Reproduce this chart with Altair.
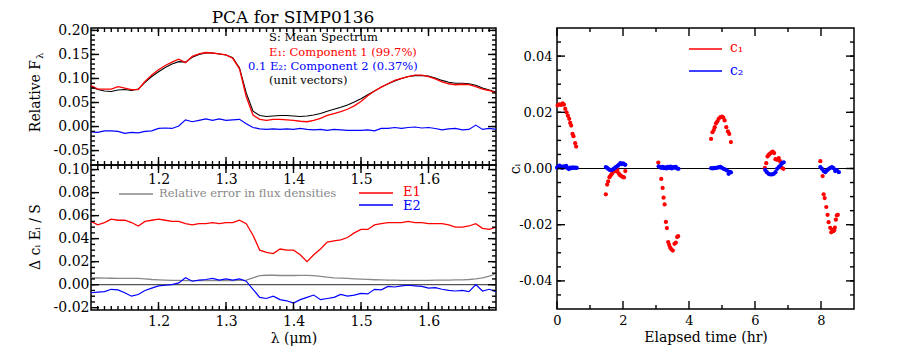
import altair as alt
import pandas as pd

FONT = "DejaVu Serif"

# ---------------- data ----------------
wavelength = [1.10, 1.11, 1.12, 1.13, 1.14, 1.15, 1.16, 1.17, 1.18, 1.19,
              1.20, 1.21, 1.22, 1.23, 1.24, 1.25, 1.26, 1.27, 1.28, 1.29,
              1.30, 1.31, 1.32, 1.33, 1.34, 1.35, 1.36, 1.37, 1.38, 1.39,
              1.40, 1.41, 1.42, 1.43, 1.44, 1.45, 1.46, 1.47, 1.48, 1.49,
              1.50, 1.51, 1.52, 1.53, 1.54, 1.55, 1.56, 1.57, 1.58, 1.59,
              1.60, 1.61, 1.62, 1.63, 1.64, 1.65, 1.66, 1.67, 1.68, 1.69, 1.70]

mean_spectrum = [0.083, 0.077, 0.074, 0.073, 0.076, 0.077, 0.075, 0.078, 0.092, 0.104,
                 0.114, 0.123, 0.130, 0.135, 0.134, 0.144, 0.150, 0.153, 0.153, 0.151,
                 0.149, 0.143, 0.122, 0.070, 0.032, 0.023, 0.021, 0.022, 0.023, 0.023,
                 0.022, 0.021, 0.022, 0.024, 0.027, 0.032, 0.036, 0.040, 0.045, 0.051,
                 0.058, 0.066, 0.074, 0.082, 0.089, 0.095, 0.100, 0.104, 0.106, 0.106,
                 0.105, 0.101, 0.096, 0.092, 0.090, 0.090, 0.089, 0.086, 0.080, 0.076, 0.072]

component1 = [0.085, 0.078, 0.078, 0.078, 0.083, 0.080, 0.077, 0.077, 0.094, 0.107,
              0.118, 0.127, 0.134, 0.140, 0.133, 0.146, 0.151, 0.154, 0.153, 0.151,
              0.149, 0.142, 0.120, 0.062, 0.024, 0.015, 0.013, 0.015, 0.015, 0.014,
              0.013, 0.011, 0.010, 0.013, 0.017, 0.023, 0.027, 0.031, 0.036, 0.043,
              0.052, 0.064, 0.074, 0.082, 0.089, 0.096, 0.100, 0.104, 0.107, 0.107,
              0.104, 0.099, 0.093, 0.089, 0.087, 0.088, 0.087, 0.083, 0.078, 0.075, 0.070]

component2_x01 = [-0.011, -0.012, -0.009, -0.009, -0.010, -0.014, -0.012, -0.013, -0.010, -0.009,
                  -0.004, -0.003, -0.004, 0.001, 0.014, 0.010, 0.013, 0.016, 0.013, 0.016,
                  0.013, 0.014, 0.015, 0.006, -0.002, -0.005, -0.006, -0.005, -0.006, -0.005,
                  -0.006, -0.004, -0.006, -0.007, -0.006, -0.008, -0.006, -0.007, -0.008, -0.008,
                  -0.008, -0.007, -0.009, -0.004, -0.004, -0.002, -0.004, -0.002, -0.001, -0.003,
                  -0.002, -0.004, -0.007, -0.005, -0.004, -0.007, -0.006, 0.003, -0.006, -0.004, -0.006]

delta_e1 = [0.055, 0.052, 0.054, 0.057, 0.056, 0.056, 0.054, 0.051, 0.055, 0.056,
            0.057, 0.056, 0.055, 0.055, 0.053, 0.052, 0.053, 0.053, 0.054, 0.053,
            0.054, 0.054, 0.056, 0.053, 0.043, 0.030, 0.028, 0.027, 0.031, 0.030,
            0.030, 0.026, 0.020, 0.026, 0.031, 0.037, 0.038, 0.039, 0.041, 0.045,
            0.048, 0.048, 0.052, 0.053, 0.054, 0.054, 0.054, 0.055, 0.054, 0.054,
            0.053, 0.053, 0.053, 0.052, 0.050, 0.050, 0.051, 0.053, 0.049, 0.048, 0.050]

delta_e2 = [-0.0070, -0.0065, -0.0060, -0.0040, -0.0045, -0.0070, -0.0100, -0.0085, -0.0050, -0.0030,
            -0.0010, -0.0005, 0.0000, 0.0015, 0.0060, 0.0030, 0.0040, 0.0045, 0.0055, 0.0040,
            0.0050, 0.0040, 0.0050, 0.0030, -0.0040, -0.0110, -0.0120, -0.0100, -0.0130, -0.0140,
            -0.0160, -0.0130, -0.0110, -0.0090, -0.0130, -0.0120, -0.0110, -0.0085, -0.0100, -0.0090,
            -0.0075, -0.0080, -0.0040, -0.0045, -0.0015, -0.0020, -0.0010, -0.0005, -0.0010, -0.0015,
            -0.0030, -0.0025, -0.0040, -0.0050, -0.0055, -0.0050, -0.0060, 0.0000, -0.0055, -0.0040, -0.0060]

rel_error = [0.0060, 0.0058, 0.0057, 0.0056, 0.0055, 0.0055, 0.0055, 0.0054, 0.0050, 0.0045,
             0.0042, 0.0040, 0.0038, 0.0037, 0.0036, 0.0036, 0.0035, 0.0035, 0.0035, 0.0035,
             0.0035, 0.0036, 0.0037, 0.0040, 0.0060, 0.0078, 0.0082, 0.0082, 0.0080, 0.0080,
             0.0080, 0.0081, 0.0081, 0.0078, 0.0072, 0.0065, 0.0060, 0.0057, 0.0054, 0.0051,
             0.0049, 0.0046, 0.0043, 0.0041, 0.0040, 0.0039, 0.0038, 0.0038, 0.0038, 0.0038,
             0.0038, 0.0039, 0.0040, 0.0040, 0.0041, 0.0042, 0.0045, 0.0050, 0.0060, 0.0075, 0.0095]

time_c1 = [0.02, 0.07, 0.12, 0.17, 0.21, 0.25, 0.29, 0.33, 0.37, 0.40, 0.43, 0.47, 0.50, 0.55, 0.58,
           1.48, 1.52, 1.55, 1.59, 1.63, 1.67, 1.71, 1.75, 1.79, 1.83, 1.87, 1.91, 1.95, 1.99, 2.03, 2.07,
           3.07, 3.16, 3.20, 3.23, 3.26, 3.30, 3.33, 3.37, 3.40, 3.43, 3.47, 3.51, 3.56, 3.60, 3.64, 3.67,
           4.67, 4.71, 4.75, 4.78, 4.82, 4.86, 4.90, 4.95, 5.00, 5.04, 5.08, 5.13, 5.18, 5.22, 5.27,
           6.30, 6.34, 6.38, 6.42, 6.46, 6.50, 6.54, 6.58, 6.62, 6.67, 6.72, 6.76, 6.81, 6.86,
           7.98, 8.05, 8.08, 8.11, 8.16, 8.20, 8.23, 8.28, 8.31, 8.34, 8.37, 8.40, 8.42, 8.45, 8.48, 8.51]
c1 = [0.0225, 0.0228, 0.0226, 0.0232, 0.0227, 0.0212, 0.0200, 0.0188, 0.0177, 0.0162, 0.0153, 0.0123, 0.0115, 0.0090, 0.0078,
      -0.0092, -0.0057, -0.0046, -0.0031, -0.0024, -0.0018, -0.0012, -0.0007, -0.0009, -0.0005, -0.0017, -0.0024, -0.0027, -0.0030, -0.0032, -0.0009,
      0.0021, -0.0037, -0.0069, -0.0104, -0.0128, -0.0190, -0.0212, -0.0262, -0.0272, -0.0282, -0.0288, -0.0292, -0.0268, -0.0264, -0.0244, -0.0241,
      0.0105, 0.0129, 0.0137, 0.0147, 0.0161, 0.0168, 0.0177, 0.0183, 0.0185, 0.0181, 0.0171, 0.0147, 0.0132, 0.0123, 0.0094,
      0.0002, 0.0019, 0.0043, 0.0049, 0.0053, 0.0057, 0.0060, 0.0055, 0.0033, 0.0031, 0.0037, 0.0026, 0.0003, -0.0001,
      0.0026, -0.0027, -0.0092, -0.0105, -0.0137, -0.0165, -0.0191, -0.0211, -0.0227, -0.0218, -0.0223, -0.0220, -0.0210, -0.0182, -0.0167, -0.0165]

time_c2 = [0.00, 0.04, 0.08, 0.12, 0.16, 0.20, 0.24, 0.28, 0.32, 0.36, 0.40, 0.44, 0.48, 0.52, 0.56, 0.60,
           1.48, 1.52, 1.56, 1.60, 1.64, 1.68, 1.72, 1.76, 1.80, 1.84, 1.88, 1.92, 1.96, 2.00, 2.04, 2.07,
           3.08, 3.12, 3.16, 3.20, 3.24, 3.28, 3.32, 3.36, 3.40, 3.44, 3.48, 3.52, 3.56, 3.60, 3.64, 3.68,
           4.67, 4.72, 4.76, 4.80, 4.85, 4.90, 4.95, 5.00, 5.05, 5.10, 5.15, 5.20, 5.24, 5.27,
           6.31, 6.36, 6.41, 6.46, 6.52, 6.57, 6.62, 6.67, 6.72, 6.77, 6.82, 6.87,
           7.98, 8.03, 8.08, 8.13, 8.18, 8.23, 8.28, 8.33, 8.38, 8.43, 8.48, 8.54]
c2 = [0.0003, 0.0008, 0.0010, 0.0006, 0.0002, 0.0008, 0.0005, 0.0009, 0.0001, -0.0002, 0.0003, 0.0001, 0.0004, 0.0002, 0.0003, 0.0002,
      0.0005, 0.0002, -0.0002, -0.0005, -0.0006, -0.0004, -0.0001, 0.0003, 0.0006, 0.0009, 0.0014, 0.0019, 0.0016, 0.0018, 0.0015, 0.0013,
      0.0008, 0.0005, 0.0002, 0.0006, 0.0001, 0.0004, 0.0000, 0.0006, 0.0002, 0.0007, 0.0000, 0.0005, 0.0003, 0.0006, 0.0000, -0.0001,
      0.0001, 0.0000, 0.0002, 0.0001, 0.0003, 0.0004, 0.0006, 0.0002, -0.0001, -0.0004, -0.0007, -0.0019, -0.0012, -0.0014,
      -0.0005, -0.0013, -0.0019, -0.0021, -0.0021, -0.0019, -0.0013, -0.0001, 0.0005, 0.0011, 0.0019, 0.0022,
      0.0005, -0.0001, -0.0009, -0.0013, -0.0007, -0.0002, 0.0002, 0.0005, 0.0001, -0.0009, -0.0006, -0.0013]

wl_ticks = [1.2, 1.3, 1.4, 1.5, 1.6]
top_y_ticks = [-0.05, 0.00, 0.05, 0.10, 0.15, 0.20]
bot_y_ticks = [-0.02, 0.00, 0.02, 0.04, 0.06, 0.08, 0.10]
time_ticks = [0, 2, 4, 6, 8]
c_ticks = [-0.04, -0.02, 0.00, 0.02, 0.04]

# minor tick positions (frame decoration)
wl_minor = [round(1.10 + 0.01 * i, 2) for i in range(1, 60)]
top_y_minor = [round(-0.07 + 0.01 * i, 2) for i in range(0, 28)]
bot_y_minor = [round(-0.015 + 0.005 * i, 3) for i in range(0, 24)]
time_minor = [1, 3, 5, 7]
c_minor = [round(-0.045 + 0.005 * i, 3) for i in range(0, 19)]


# ---------------- helpers ----------------
def label_axis(orient, values, fmt, fs, pad, title=None, title_pad=4):
    kw = dict(orient=orient, values=values, ticks=False, domain=False, grid=False,
              labels=True, title=title, labelFont=FONT, labelFontSize=fs,
              labelColor="black", labelPadding=pad, labelOverlap=False,
              labelFlush=False, minExtent=0,
              labelExpr="(datum.value < 0 ? '-' : '') + format(abs(datum.value), '%s')" % fmt)
    if title is not None:
        kw.update(titleFont=FONT, titleFontSize=14, titleFontWeight="normal",
                  titleColor="black", titlePadding=title_pad)
    return alt.Axis(**kw)


def tick_layer(values, side, length, xs, ys, W, H):
    """Inward tick marks along one frame edge."""
    d = alt.Chart(pd.DataFrame({"v": values})).mark_rule(color="black", strokeWidth=1.4)
    if side == "bottom":
        return d.encode(x=alt.X("v:Q", scale=xs, axis=None), y=alt.value(H - length), y2=alt.value(H))
    if side == "top":
        return d.encode(x=alt.X("v:Q", scale=xs, axis=None), y=alt.value(0), y2=alt.value(length))
    if side == "left":
        return d.encode(y=alt.Y("v:Q", scale=ys, axis=None), x=alt.value(0), x2=alt.value(length))
    return d.encode(y=alt.Y("v:Q", scale=ys, axis=None), x=alt.value(W - length), x2=alt.value(W))


def all_ticks(xmaj, xmin, ymaj, ymin, xs, ys, W, H, big=8, small=4):
    out = []
    for side in ("bottom", "top"):
        out.append(tick_layer(xmin, side, small, xs, ys, W, H))
        out.append(tick_layer(xmaj, side, big, xs, ys, W, H))
    for side in ("left", "right"):
        out.append(tick_layer(ymin, side, small, xs, ys, W, H))
        out.append(tick_layer(ymaj, side, big, xs, ys, W, H))
    return out


def txt(text, x, y, color="black", size=12, align="left", angle=0, opacity=1.0):
    return alt.Chart(pd.DataFrame({"t": [text]})).mark_text(
        align=align, baseline="middle", font=FONT, fontSize=size,
        color=color, angle=angle, opacity=opacity).encode(text="t:N", x=alt.value(x), y=alt.value(y))


def seg(x1, x2, y, color):
    return alt.Chart(pd.DataFrame({"t": [0]})).mark_rule(
        color=color, strokeWidth=1.3).encode(x=alt.value(x1), x2=alt.value(x2), y=alt.value(y))


spec = pd.DataFrame({"wl": wavelength, "S": mean_spectrum, "E1": component1,
                     "E2": component2_x01, "dE1": delta_e1, "dE2": delta_e2,
                     "err": rel_error})
df_c1 = pd.DataFrame({"t": time_c1, "c": c1})
df_c2 = pd.DataFrame({"t": time_c2, "c": c2})
base = alt.Chart(spec)

# ---------------- top-left panel ----------------
W_L, H_T, H_B = 405, 137, 145
xs_wl = alt.Scale(domain=[1.10, 1.70], nice=False, zero=False)
ys_top = alt.Scale(domain=[-0.08, 0.205], nice=False, zero=False)

t1 = base.mark_line(color="black", strokeWidth=1.1).encode(
    x=alt.X("wl:Q", scale=xs_wl, axis=label_axis("bottom", wl_ticks, ".1f", 14, 7)),
    y=alt.Y("S:Q", scale=ys_top, axis=label_axis("left", top_y_ticks, ".2f", 14, 2)))
t2 = base.mark_line(color="red", strokeWidth=1.3).encode(
    x=alt.X("wl:Q", scale=xs_wl, axis=None), y=alt.Y("E1:Q", scale=ys_top, axis=None))
t3 = base.mark_line(color="blue", strokeWidth=1.2).encode(
    x=alt.X("wl:Q", scale=xs_wl, axis=None), y=alt.Y("E2:Q", scale=ys_top, axis=None))

top = alt.layer(
    t1, t2, t3,
    *all_ticks(wl_ticks, wl_minor, top_y_ticks, top_y_minor, xs_wl, ys_top, W_L, H_T),
    txt("S: Mean Spectrum", 178, 10, size=11.5),
    txt("E\u2081: Component 1 (99.7%)", 178, 25, color="red", size=11.5),
    txt("0.1 E\u2082: Component 2 (0.37%)", 157, 39, color="blue", size=11.5),
    txt("(unit vectors)", 178, 53, size=11.5),
    txt("PCA for SIMP0136", 202, -10, size=17, align="center"),
    txt("Relative F", -55, 32, size=14, align="right", angle=270),
    txt("\u03bb", -51, 31, size=10, align="left", angle=270),
).resolve_axis(x="independent", y="independent").properties(width=W_L, height=H_T)

# ---------------- bottom-left panel ----------------
ys_bot = alt.Scale(domain=[-0.022, 0.104], nice=False, zero=False)
b0 = alt.Chart(pd.DataFrame({"t": [0]})).mark_rule(color="#555555", strokeWidth=1.2).encode(
    y=alt.YDatum(0, scale=ys_bot, axis=None))
b3 = base.mark_line(color="#888888", strokeWidth=1.3).encode(
    x=alt.X("wl:Q", scale=xs_wl, axis=None), y=alt.Y("err:Q", scale=ys_bot, axis=None))
b1 = base.mark_line(color="red", strokeWidth=1.3).encode(
    x=alt.X("wl:Q", scale=xs_wl, axis=label_axis("bottom", wl_ticks, ".1f", 14, 4,
                                                   title="\u03bb (\u03bcm)", title_pad=3)),
    y=alt.Y("dE1:Q", scale=ys_bot, axis=label_axis("left", bot_y_ticks, ".2f", 14, 2)))
b2 = base.mark_line(color="blue", strokeWidth=1.2).encode(
    x=alt.X("wl:Q", scale=xs_wl, axis=None), y=alt.Y("dE2:Q", scale=ys_bot, axis=None))

bottom = alt.layer(
    b0, b3, b1, b2,
    *all_ticks(wl_ticks, wl_minor, bot_y_ticks, bot_y_minor, xs_wl, ys_bot, W_L, H_B),
    seg(28, 62, 29, "#888888"),
    txt("Relative error in flux densities", 68, 29, color="#888888", size=11.5),
    seg(268, 302, 28, "red"),
    txt("E1", 312, 27, color="red", size=13),
    seg(268, 302, 40, "blue"),
    txt("E2", 312, 41, color="blue", size=13),
    txt("\u0394 c\u1d62 E\u1d62 / S", -55, 72, size=14, align="center", angle=270),
).resolve_axis(x="independent", y="independent").properties(width=W_L, height=H_B)

# ---------------- right panel ----------------
W_R, H_R = 297, 281
xs_t = alt.Scale(domain=[0, 9], nice=False, zero=False)
ys_c = alt.Scale(domain=[-0.05, 0.05], nice=False, zero=False)
r0 = alt.Chart(pd.DataFrame({"t": [0]})).mark_rule(color="black", strokeWidth=1.1).encode(
    y=alt.YDatum(0, scale=ys_c, axis=None))
r1 = alt.Chart(df_c1).mark_circle(color="red", size=18, opacity=1).encode(
    x=alt.X("t:Q", scale=xs_t, axis=label_axis("bottom", time_ticks, "d", 13, 5,
                                                title="Elapsed time (hr)", title_pad=3)),
    y=alt.Y("c:Q", scale=ys_c, axis=label_axis("left", c_ticks, ".2f", 13, 5)))
r2 = alt.Chart(df_c2).mark_circle(color="blue", size=18, opacity=1).encode(
    x=alt.X("t:Q", scale=xs_t, axis=None), y=alt.Y("c:Q", scale=ys_c, axis=None))

right = alt.layer(
    r0, r1, r2,
    *all_ticks(time_ticks, time_minor, c_ticks, c_minor, xs_t, ys_c, W_R, H_R),
    seg(132, 165, 21, "red"),
    txt("c\u2081", 173, 20, color="red", size=14),
    seg(132, 165, 43, "blue"),
    txt("c\u2082", 173, 43, color="blue", size=14),
    txt("c\u1d62", -41, 141, size=14, align="center", angle=270),
    txt("PCA for SIMP0136", 148, -10, size=17, align="center", opacity=0.0),
).resolve_axis(x="independent", y="independent").properties(width=W_R, height=H_R)

left = alt.vconcat(top, bottom, spacing=0, bounds="flush")
chart = alt.hconcat(left, right, spacing=8).properties(
    padding={"left": 20, "top": 0, "right": 5, "bottom": 5}
).configure_view(stroke="black", strokeWidth=1.5)

chart.save("out.html", embed_options={"renderer": "svg", "actions": False})
